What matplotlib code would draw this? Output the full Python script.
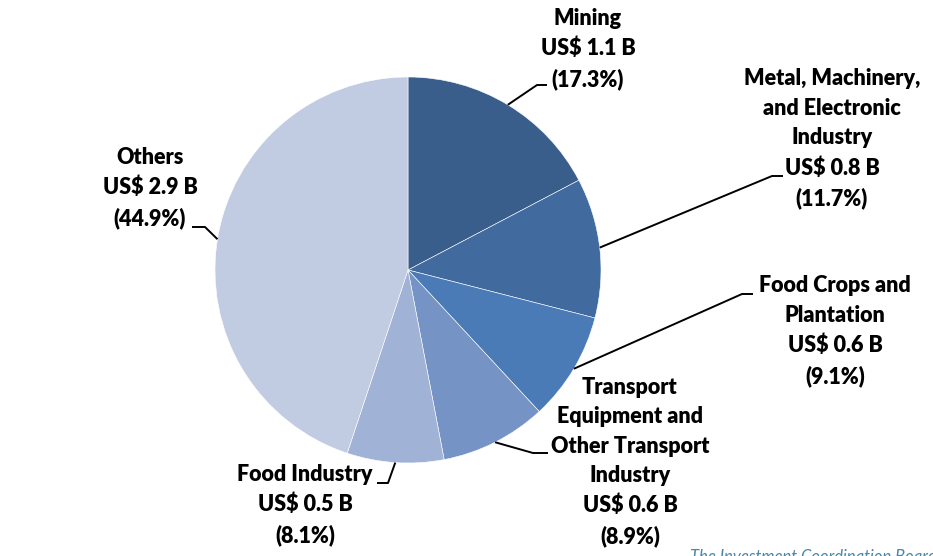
import numpy as np
import matplotlib.pyplot as plt

# sector shares of investment (pie values, percent)
labels = ['Mining', 'Metal, Machinery,\nand Electronic\nIndustry',
          'Food Crops and\nPlantation',
          'Transport\nEquipment and\nOther Transport\nIndustry',
          'Food Industry', 'Others']
values_usd = ['1.1', '0.8', '0.6', '0.6', '0.5', '2.9']
shares = [17.3, 11.7, 9.1, 8.9, 8.1, 44.9]
colors = ['#3a5e8b', '#416a9f', '#4a7bb6', '#7593c5', '#a0b2d5', '#c1cbe1']

# label placement in pixels (x, y from top), elbow offsets
label_xy = [(588, 49), (832, 139), (835, 331), (630, 462), (305, 505), (150, 188)]
elbow = [((537, 85), (547, 85)), ((772, 176), (783, 176)), ((742, 294), (753, 294)),
         ((533, 453), (548, 453)), ((388, 483), (377, 483)), ((205, 227), (192, 227))]

W, H = 933, 556
plt.rcParams['font.family'] = ['Lato', 'DejaVu Sans']

fig = plt.figure(figsize=(W / 100, H / 100), dpi=100)
ax = fig.add_axes([0, 0, 1, 1])

cx, cy, r = 408, H - 270, 193
wedges, _ = ax.pie(shares, colors=colors, startangle=90, counterclock=False,
                   center=(cx, cy), radius=r, frame=True,
                   wedgeprops=dict(edgecolor='white', linewidth=0.4))
ax.set_xlim(0, W)
ax.set_ylim(0, H)
ax.set_aspect('equal')
ax.axis('off')

for i, w in enumerate(wedges):
    mid = np.deg2rad((w.theta1 + w.theta2) / 2)
    x0, y0 = cx + r * np.cos(mid), cy + r * np.sin(mid)
    (ex, ey), (hx, hy) = elbow[i]
    ax.plot([x0, ex, hx], [y0, H - ey, H - hy], color='black', lw=1.4,
            solid_capstyle='butt')
    txt = '%s\nUS$ %s B\n(%.1f%%)' % (labels[i], values_usd[i], shares[i])
    lx, ly = label_xy[i]
    ax.text(lx, H - ly, txt, ha='center', va='center', fontsize=15.5,
            fontweight='heavy', linespacing=1.5, color='black')

ax.text(690, H - 549, 'The Investment Coordination Board', ha='left', va='top',
        fontsize=12, style='italic', color='#4a86a6')

fig.savefig('out.png', dpi=100)
